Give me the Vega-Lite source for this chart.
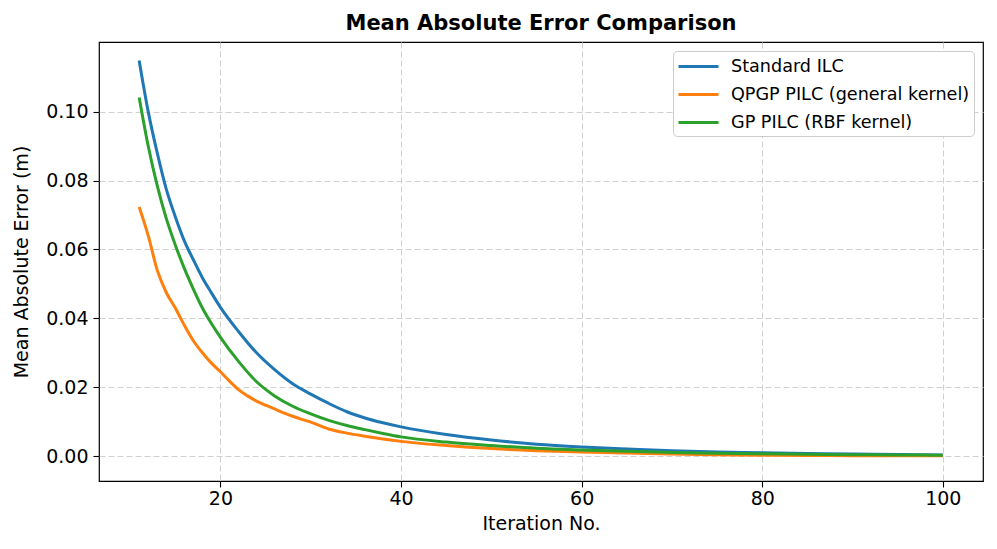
{
  "$schema": "https://vega.github.io/schema/vega-lite/v6.json",
  "autosize": {"type": "none"},
  "width": 884,
  "height": 439,
  "padding": {"left": 99, "top": 42, "right": 14, "bottom": 68},
  "background": "white",
  "title": {"text": "Mean Absolute Error Comparison", "font": "DejaVu Sans", "fontSize": 21, "fontWeight": "bold", "color": "black", "anchor": "middle", "offset": 8},
  "config": {
    "font": "DejaVu Sans",
    "view": {"stroke": "black", "strokeWidth": 1.2},
    "axis": {
      "labelFont": "DejaVu Sans", "labelFontSize": 19, "labelColor": "black",
      "titleFont": "DejaVu Sans", "titleFontSize": 19, "titleFontWeight": "normal", "titleColor": "black",
      "tickColor": "black", "tickSize": 6, "tickWidth": 1.1, "domain": false,
      "grid": true, "gridColor": "#d0d0d0", "gridDash": [6, 3], "gridWidth": 1, "labelPadding": 4
    },
    "legend": {"labelFont": "DejaVu Sans", "labelFontSize": 17.6, "labelColor": "black"}
  },
  "data": {"values": [
    {"iter": 11, "mae": 0.1148, "method": "Standard ILC"},
    {"iter": 12, "mae": 0.1000, "method": "Standard ILC"},
    {"iter": 13, "mae": 0.0880, "method": "Standard ILC"},
    {"iter": 14, "mae": 0.0775, "method": "Standard ILC"},
    {"iter": 15, "mae": 0.0695, "method": "Standard ILC"},
    {"iter": 16, "mae": 0.0625, "method": "Standard ILC"},
    {"iter": 17, "mae": 0.0570, "method": "Standard ILC"},
    {"iter": 18, "mae": 0.0518, "method": "Standard ILC"},
    {"iter": 19, "mae": 0.0474, "method": "Standard ILC"},
    {"iter": 20, "mae": 0.0432, "method": "Standard ILC"},
    {"iter": 22, "mae": 0.0362, "method": "Standard ILC"},
    {"iter": 24, "mae": 0.0300, "method": "Standard ILC"},
    {"iter": 26, "mae": 0.0251, "method": "Standard ILC"},
    {"iter": 28, "mae": 0.0210, "method": "Standard ILC"},
    {"iter": 30, "mae": 0.0180, "method": "Standard ILC"},
    {"iter": 32, "mae": 0.0153, "method": "Standard ILC"},
    {"iter": 34, "mae": 0.0129, "method": "Standard ILC"},
    {"iter": 36, "mae": 0.0111, "method": "Standard ILC"},
    {"iter": 38, "mae": 0.0097, "method": "Standard ILC"},
    {"iter": 40, "mae": 0.0085, "method": "Standard ILC"},
    {"iter": 45, "mae": 0.0063, "method": "Standard ILC"},
    {"iter": 50, "mae": 0.0047, "method": "Standard ILC"},
    {"iter": 55, "mae": 0.0035, "method": "Standard ILC"},
    {"iter": 60, "mae": 0.0027, "method": "Standard ILC"},
    {"iter": 65, "mae": 0.0021, "method": "Standard ILC"},
    {"iter": 70, "mae": 0.0016, "method": "Standard ILC"},
    {"iter": 75, "mae": 0.0012, "method": "Standard ILC"},
    {"iter": 80, "mae": 0.00097, "method": "Standard ILC"},
    {"iter": 85, "mae": 0.00076, "method": "Standard ILC"},
    {"iter": 90, "mae": 0.0006, "method": "Standard ILC"},
    {"iter": 95, "mae": 0.00046, "method": "Standard ILC"},
    {"iter": 100, "mae": 0.00035, "method": "Standard ILC"},
    {"iter": 11, "mae": 0.0723, "method": "QPGP PILC (general kernel)"},
    {"iter": 12, "mae": 0.0640, "method": "QPGP PILC (general kernel)"},
    {"iter": 13, "mae": 0.0540, "method": "QPGP PILC (general kernel)"},
    {"iter": 14, "mae": 0.0475, "method": "QPGP PILC (general kernel)"},
    {"iter": 15, "mae": 0.0430, "method": "QPGP PILC (general kernel)"},
    {"iter": 16, "mae": 0.0380, "method": "QPGP PILC (general kernel)"},
    {"iter": 17, "mae": 0.0335, "method": "QPGP PILC (general kernel)"},
    {"iter": 18, "mae": 0.0300, "method": "QPGP PILC (general kernel)"},
    {"iter": 19, "mae": 0.0270, "method": "QPGP PILC (general kernel)"},
    {"iter": 20, "mae": 0.0245, "method": "QPGP PILC (general kernel)"},
    {"iter": 21, "mae": 0.0218, "method": "QPGP PILC (general kernel)"},
    {"iter": 22, "mae": 0.0193, "method": "QPGP PILC (general kernel)"},
    {"iter": 23, "mae": 0.0175, "method": "QPGP PILC (general kernel)"},
    {"iter": 24, "mae": 0.0160, "method": "QPGP PILC (general kernel)"},
    {"iter": 25, "mae": 0.0148, "method": "QPGP PILC (general kernel)"},
    {"iter": 26, "mae": 0.0137, "method": "QPGP PILC (general kernel)"},
    {"iter": 27, "mae": 0.0126, "method": "QPGP PILC (general kernel)"},
    {"iter": 28, "mae": 0.0116, "method": "QPGP PILC (general kernel)"},
    {"iter": 29, "mae": 0.0107, "method": "QPGP PILC (general kernel)"},
    {"iter": 30, "mae": 0.0099, "method": "QPGP PILC (general kernel)"},
    {"iter": 32, "mae": 0.0079, "method": "QPGP PILC (general kernel)"},
    {"iter": 34, "mae": 0.0067, "method": "QPGP PILC (general kernel)"},
    {"iter": 36, "mae": 0.0058, "method": "QPGP PILC (general kernel)"},
    {"iter": 38, "mae": 0.0050, "method": "QPGP PILC (general kernel)"},
    {"iter": 40, "mae": 0.0043, "method": "QPGP PILC (general kernel)"},
    {"iter": 45, "mae": 0.0031, "method": "QPGP PILC (general kernel)"},
    {"iter": 50, "mae": 0.0022, "method": "QPGP PILC (general kernel)"},
    {"iter": 55, "mae": 0.0016, "method": "QPGP PILC (general kernel)"},
    {"iter": 60, "mae": 0.0012, "method": "QPGP PILC (general kernel)"},
    {"iter": 65, "mae": 0.0009, "method": "QPGP PILC (general kernel)"},
    {"iter": 70, "mae": 0.0006, "method": "QPGP PILC (general kernel)"},
    {"iter": 75, "mae": 0.00042, "method": "QPGP PILC (general kernel)"},
    {"iter": 80, "mae": 0.0003, "method": "QPGP PILC (general kernel)"},
    {"iter": 85, "mae": 0.00022, "method": "QPGP PILC (general kernel)"},
    {"iter": 90, "mae": 0.00016, "method": "QPGP PILC (general kernel)"},
    {"iter": 95, "mae": 0.00012, "method": "QPGP PILC (general kernel)"},
    {"iter": 100, "mae": 0.0001, "method": "QPGP PILC (general kernel)"},
    {"iter": 11, "mae": 0.1041, "method": "GP PILC (RBF kernel)"},
    {"iter": 12, "mae": 0.0900, "method": "GP PILC (RBF kernel)"},
    {"iter": 13, "mae": 0.0785, "method": "GP PILC (RBF kernel)"},
    {"iter": 14, "mae": 0.0690, "method": "GP PILC (RBF kernel)"},
    {"iter": 15, "mae": 0.0613, "method": "GP PILC (RBF kernel)"},
    {"iter": 16, "mae": 0.0545, "method": "GP PILC (RBF kernel)"},
    {"iter": 17, "mae": 0.0485, "method": "GP PILC (RBF kernel)"},
    {"iter": 18, "mae": 0.0430, "method": "GP PILC (RBF kernel)"},
    {"iter": 19, "mae": 0.0385, "method": "GP PILC (RBF kernel)"},
    {"iter": 20, "mae": 0.0345, "method": "GP PILC (RBF kernel)"},
    {"iter": 22, "mae": 0.0275, "method": "GP PILC (RBF kernel)"},
    {"iter": 24, "mae": 0.0216, "method": "GP PILC (RBF kernel)"},
    {"iter": 26, "mae": 0.0175, "method": "GP PILC (RBF kernel)"},
    {"iter": 28, "mae": 0.0145, "method": "GP PILC (RBF kernel)"},
    {"iter": 30, "mae": 0.0123, "method": "GP PILC (RBF kernel)"},
    {"iter": 32, "mae": 0.0104, "method": "GP PILC (RBF kernel)"},
    {"iter": 34, "mae": 0.0089, "method": "GP PILC (RBF kernel)"},
    {"iter": 36, "mae": 0.0077, "method": "GP PILC (RBF kernel)"},
    {"iter": 38, "mae": 0.0066, "method": "GP PILC (RBF kernel)"},
    {"iter": 40, "mae": 0.0056, "method": "GP PILC (RBF kernel)"},
    {"iter": 45, "mae": 0.0041, "method": "GP PILC (RBF kernel)"},
    {"iter": 50, "mae": 0.0031, "method": "GP PILC (RBF kernel)"},
    {"iter": 55, "mae": 0.0023, "method": "GP PILC (RBF kernel)"},
    {"iter": 60, "mae": 0.0018, "method": "GP PILC (RBF kernel)"},
    {"iter": 65, "mae": 0.0014, "method": "GP PILC (RBF kernel)"},
    {"iter": 70, "mae": 0.0011, "method": "GP PILC (RBF kernel)"},
    {"iter": 75, "mae": 0.00087, "method": "GP PILC (RBF kernel)"},
    {"iter": 80, "mae": 0.0007, "method": "GP PILC (RBF kernel)"},
    {"iter": 85, "mae": 0.00055, "method": "GP PILC (RBF kernel)"},
    {"iter": 90, "mae": 0.00044, "method": "GP PILC (RBF kernel)"},
    {"iter": 95, "mae": 0.00035, "method": "GP PILC (RBF kernel)"},
    {"iter": 100, "mae": 0.00028, "method": "GP PILC (RBF kernel)"}
  ]},
  "mark": {"type": "line", "strokeWidth": 3, "interpolate": "monotone", "clip": true},
  "encoding": {
    "x": {"field": "iter", "type": "quantitative", "title": "Iteration No.",
      "scale": {"domain": [6.55, 104.45], "nice": false, "zero": false},
      "axis": {"values": [20, 40, 60, 80, 100], "labelPadding": 2, "titlePadding": 6}},
    "y": {"field": "mae", "type": "quantitative", "title": "Mean Absolute Error (m)",
      "scale": {"domain": [-0.0072, 0.1202], "nice": false, "zero": false},
      "axis": {"values": [0, 0.02, 0.04, 0.06, 0.08, 0.1], "format": ".2f", "labelPadding": 5, "titlePadding": 14}},
    "color": {"field": "method", "type": "nominal", "title": null,
      "scale": {"domain": ["Standard ILC", "QPGP PILC (general kernel)", "GP PILC (RBF kernel)"], "range": ["#1f77b4", "#ff7f0e", "#2ca02c"]},
      "legend": {"orient": "top-right", "offset": 9, "symbolType": "M-1,0H3", "symbolSize": 400, "symbolStrokeWidth": 3,
        "strokeColor": "#cccccc", "fillColor": "white", "cornerRadius": 4, "padding": 4, "rowPadding": 7, "labelOffset": 31, "labelLimit": 400}},
    "order": {"field": "iter", "type": "quantitative"}
  }
}
